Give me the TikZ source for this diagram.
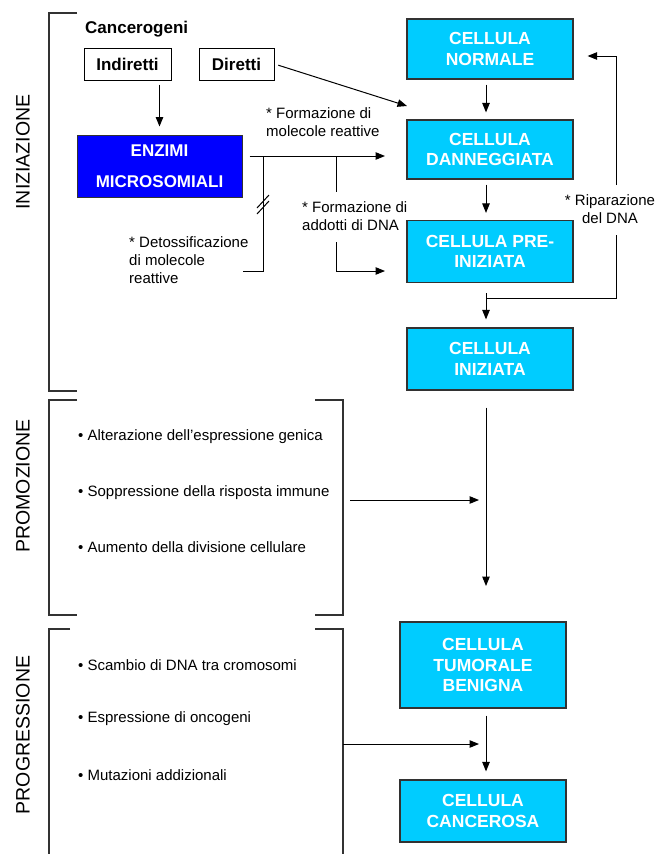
\documentclass[tikz,border=0pt]{standalone}
\usepackage{fontspec}
\setmainfont{Liberation Sans}
\usepackage{tikz}
\usetikzlibrary{arrows.meta,calc}
\definecolor{cellcyan}{RGB}{0,204,255}
\definecolor{enzblue}{RGB}{0,0,255}
\definecolor{boxgray}{RGB}{50,50,50}
\tikzset{
  cell-node/.style={draw=boxgray, line width=1.2pt, fill=cellcyan, text=white,
    minimum width=166pt, minimum height=60pt, font=\fontsize{17.5}{20.5}\selectfont\bfseries,
    align=center, inner sep=2pt},
  enzyme-node/.style={draw=boxgray, line width=1pt, fill=enzblue, text=white,
    minimum width=165pt, minimum height=62pt, font=\fontsize{17}{31}\selectfont\bfseries,
    align=center, inner sep=2pt},
  agent-node/.style={draw=black, line width=1pt, minimum height=32pt,
    font=\fontsize{17}{20}\selectfont\bfseries, inner sep=2pt},
  flow-arrow/.style={-{Triangle[length=9.5pt,width=7.5pt]}, line width=1pt},
  plain-line/.style={line width=1pt},
  bracket-line/.style={line width=1.2pt, draw=boxgray},
  note-text/.style={font=\fontsize{15}{18}\selectfont, align=left, inner sep=0pt},
  bullet-text/.style={font=\fontsize{15}{18}\selectfont, anchor=west, inner sep=0pt},
  phase-label/.style={font=\fontsize{19.5}{22}\selectfont, rotate=90, inner sep=0pt}
}

\begin{document}
\begin{tikzpicture}[x=1pt, y=-1pt]
\useasboundingbox (0,0) rectangle (656,854);

% phases
\draw[bracket-line] (77,13) -- (49,13) -- (49,391) -- (77,391);
\draw[bracket-line] (77,400) -- (49,400) -- (49,615) -- (77,615);
\draw[bracket-line] (315,400) -- (343,400) -- (343,615) -- (315,615);
\draw[bracket-line] (70,629) -- (49,629) -- (49,854);
\draw[bracket-line] (315,629) -- (343,629) -- (343,854);
\node[phase-label] (iniz) at (23,152) {INIZIAZIONE};
\node[phase-label] (promo) at (23,486) {PROMOZIONE};
\node[phase-label] (progr) at (23,735) {PROGRESSIONE};

% cells
\node[cell-node] (normale) at (490,49) {CELLULA\\NORMALE};
\node[cell-node, minimum height=59pt] (danneggiata) at (490,149.5) {CELLULA\\DANNEGGIATA};
\node[cell-node, minimum height=62pt] (preiniziata) at (490,251.5) {CELLULA PRE-\\INIZIATA};
\node[cell-node, minimum height=62pt] (iniziata) at (490,359) {CELLULA\\INIZIATA};
\node[cell-node, minimum height=86pt] (tumorale) at (483,665) {CELLULA\\TUMORALE\\BENIGNA};
\node[cell-node, minimum height=62pt] (cancerosa) at (483,811) {CELLULA\\CANCEROSA};

% carcinogens
\node[font=\fontsize{17}{20}\selectfont\bfseries, anchor=west, inner sep=0pt]
  (cancerogeni) at (85,29) {Cancerogeni};
\node[agent-node, minimum width=87pt] (indiretti) at (127.5,64) {Indiretti};
\node[agent-node, minimum width=75pt] (diretti) at (236.5,64) {Diretti};
\node[enzyme-node] (enzimi) at (159.5,166) {ENZIMI\\MICROSOMIALI};

\node[note-text, anchor=west] (molreat) at (266,122) {* Formazione di\\molecole reattive};
\node[note-text, anchor=west] (addotti) at (302,216) {* Formazione di\\addotti di DNA};
\node[note-text, anchor=west] (detox) at (129,260) {* Detossificazione\\di molecole\\reattive};
\node[note-text, align=center] (ripar) at (610,209) {* Riparazione\\del DNA};

\coordinate (dtip) at (407,106);
\coordinate (jdetox) at (263,156);
\coordinate (jaddotti) at (336,156);
\coordinate (mtip) at (385,156);
\coordinate (detoxend) at (243,271);
\coordinate (addgap1) at (336,192);
\coordinate (addgap2) at (336,242);
\coordinate (addtip) at (385,271);
\coordinate (jrep) at (486,298);
\coordinate (repgap1) at (616,235);
\coordinate (repgap2) at (616,185);

\draw[flow-arrow, shorten <=4pt, shorten >=8pt] (indiretti.south -| enzimi.north) -- (enzimi.north);
\draw[flow-arrow, shorten <=4pt] (diretti.east) -- (dtip);
\draw[flow-arrow] ([xshift=7pt,yshift=10pt]enzimi.east) -- (mtip);
\draw[plain-line] (jdetox) |- (detoxend);
\draw[plain-line] (257,208) -- (269,195);
\draw[plain-line] (257,214) -- (269,201);
\draw[plain-line] (jaddotti) -- (addgap1);
\draw[flow-arrow] (addgap2) |- (addtip);

\draw[flow-arrow, shorten <=5pt, shorten >=7pt] ([xshift=-4pt]normale.south) -- ([xshift=-4pt]danneggiata.north);
\draw[flow-arrow, shorten <=5pt, shorten >=7pt] ([xshift=-4pt]danneggiata.south) -- ([xshift=-4pt]preiniziata.north);
\draw[flow-arrow, shorten <=10pt, shorten >=8pt] ([xshift=-4pt]preiniziata.south) -- ([xshift=-4pt]iniziata.north);
\draw[plain-line] (jrep) -| (repgap1);
\draw[flow-arrow, shorten >=14pt] (repgap2) |- ([yshift=-7pt]normale.east);

% promotion
\node[bullet-text] (altera) at (78,437) {• Alterazione dell’espressione genica};
\node[bullet-text] (soppr) at (78,493) {• Soppressione della risposta immune};
\node[bullet-text] (aumento) at (78,547) {• Aumento della divisione cellulare};
\coordinate (promostart) at (350,500);
\coordinate (promotip) at (479,500);
\coordinate (promoend) at (486,586);
\draw[flow-arrow] (promostart) -- (promotip);
\draw[flow-arrow, shorten <=17pt] ([xshift=-4pt]iniziata.south) -- (promoend);

% progression
\node[bullet-text] (scambio) at (78,665) {• Scambio di DNA tra cromosomi};
\node[bullet-text] (espress) at (78,719) {• Espressione di oncogeni};
\node[bullet-text] (mutaz) at (78,775) {• Mutazioni addizionali};
\coordinate (progstart) at (343,744);
\coordinate (progtip) at (479,744);
\draw[flow-arrow] (progstart) -- (progtip);
\draw[flow-arrow, shorten <=7pt, shorten >=8pt] ([xshift=3pt]tumorale.south) -- ([xshift=3pt]cancerosa.north);
\end{tikzpicture}
\end{document}
